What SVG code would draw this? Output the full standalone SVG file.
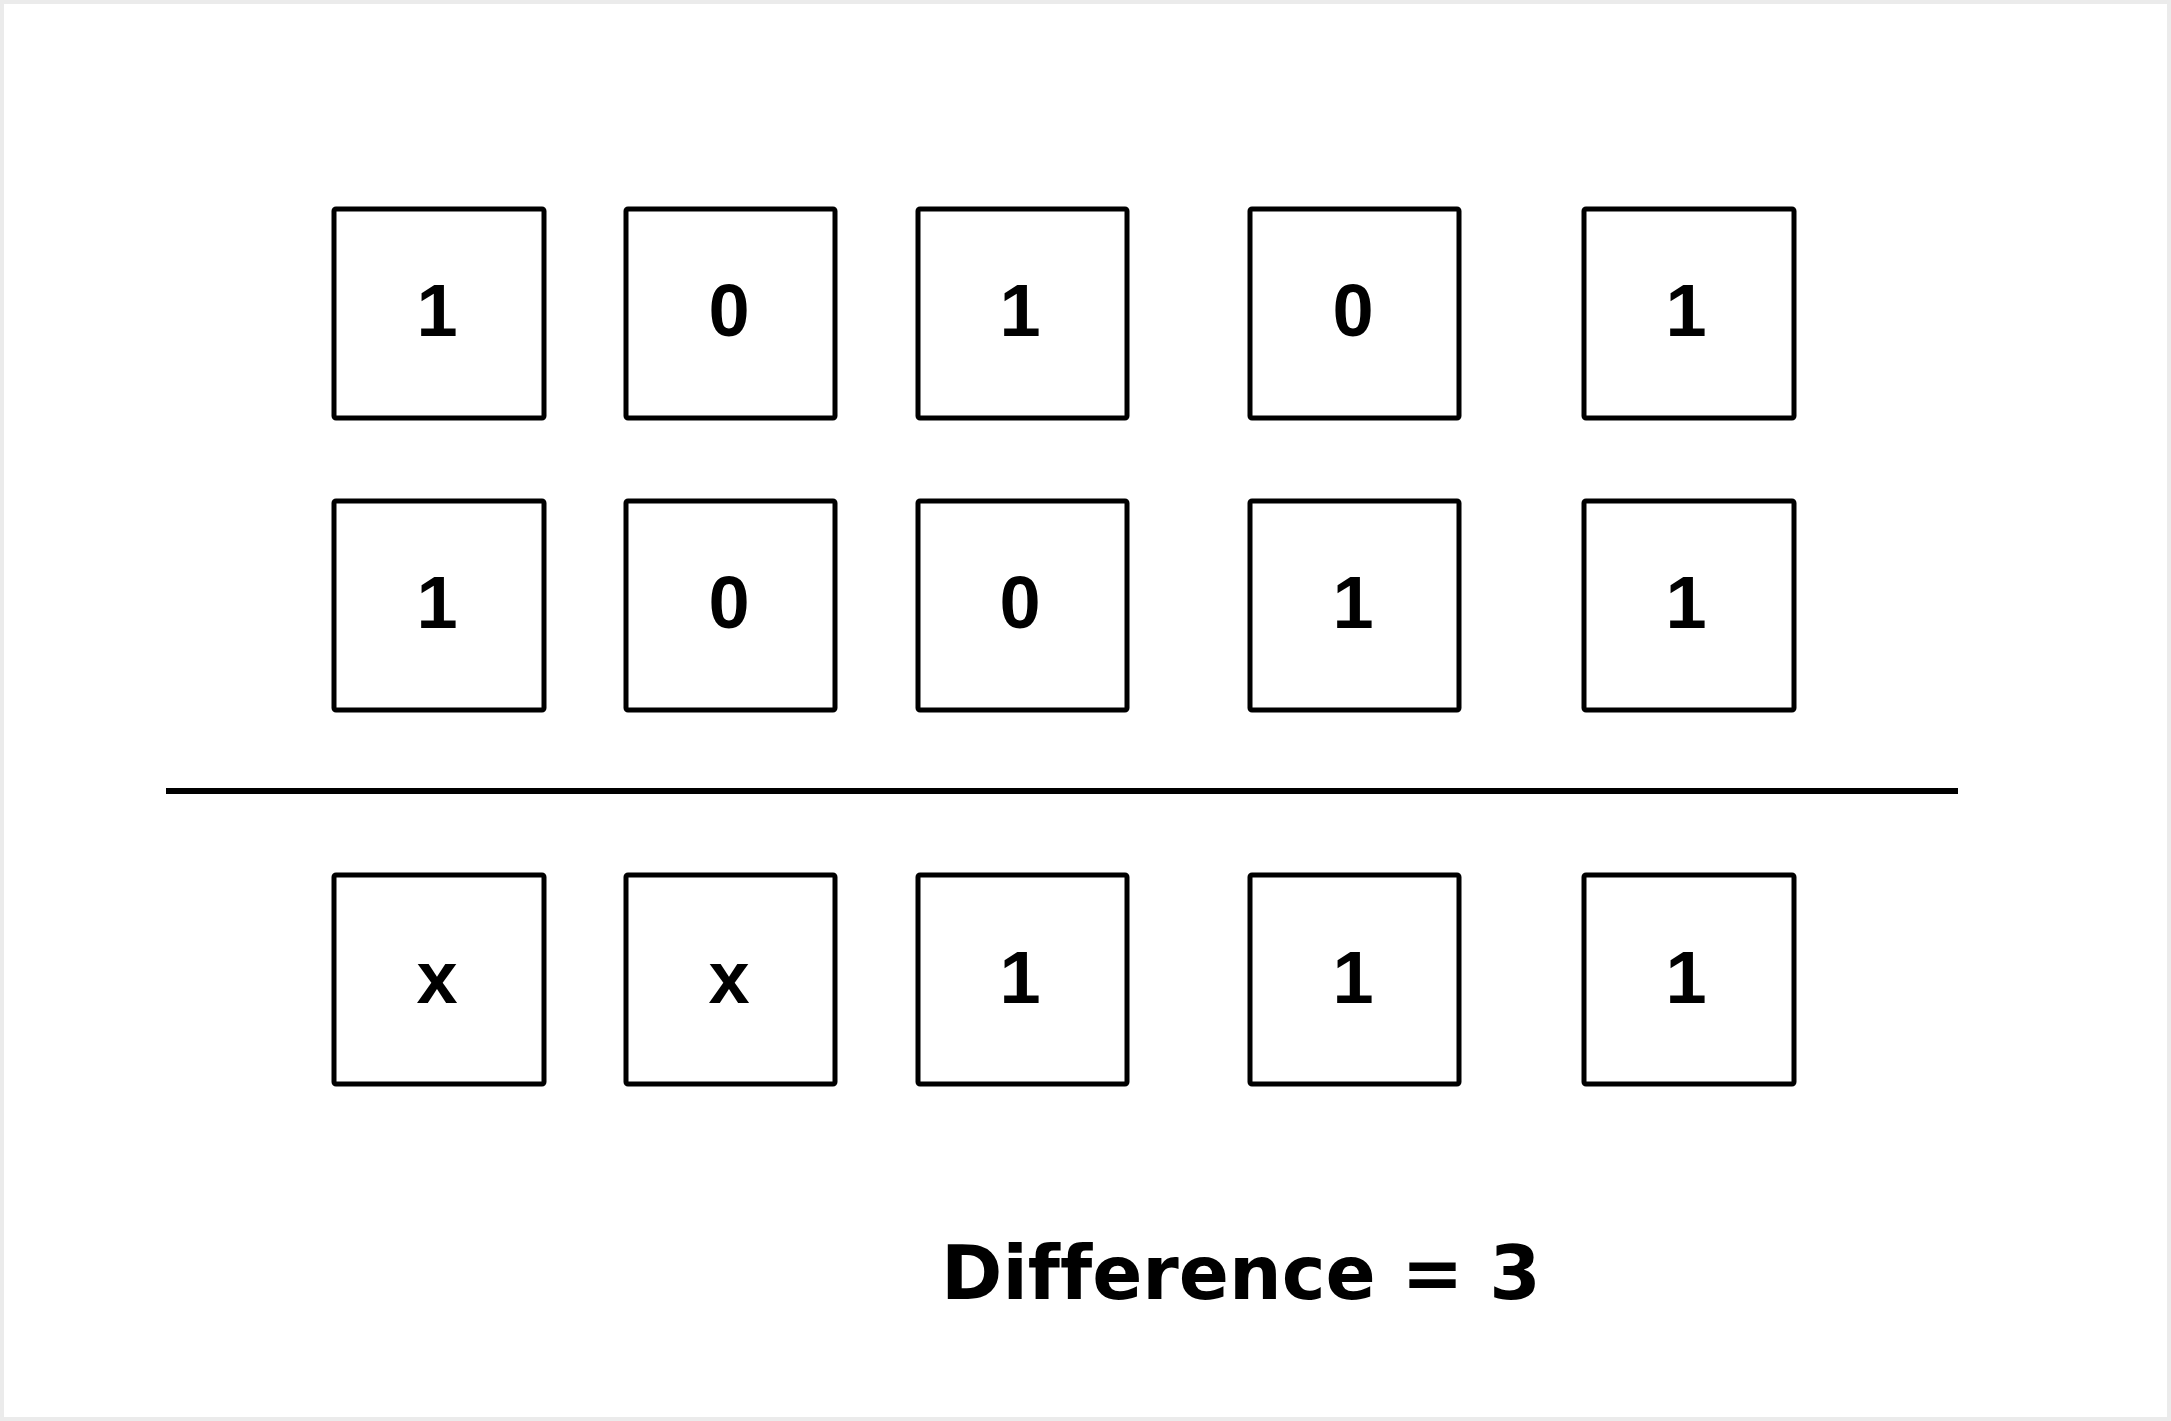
<svg xmlns="http://www.w3.org/2000/svg" width="2171" height="1421" viewBox="0 0 2171 1421">
<style>
.box{fill:#ffffff;stroke:#000000;stroke-width:5}
.d{font-family:'Liberation Sans','Arimo',Arial,'Roboto',Helvetica,sans-serif;font-weight:700;font-size:74px;text-anchor:middle;fill:#000}
.lbl{font-family:'DejaVu Sans',Verdana,sans-serif;font-weight:700;font-size:74px;fill:#000;font-variant-ligatures:none}
</style>
<rect x="0" y="0" width="2171" height="1421" fill="#ffffff"/>
<rect x="2" y="2" width="2167" height="1417" fill="none" stroke="#ebebeb" stroke-width="4"/>
<g id="connectors">
<line x1="166" y1="791" x2="1958" y2="791" stroke="#000" stroke-width="6"/>
</g>
<g id="r1c1"><rect class="box" x="334" y="209" width="210" height="209" rx="2"/><text class="d" x="437" y="336">1</text></g>
<g id="r1c2"><rect class="box" x="626" y="209" width="209" height="209" rx="2"/><text class="d" x="729" y="336">0</text></g>
<g id="r1c3"><rect class="box" x="918" y="209" width="209" height="209" rx="2"/><text class="d" x="1020" y="336">1</text></g>
<g id="r1c4"><rect class="box" x="1250" y="209" width="209" height="209" rx="2"/><text class="d" x="1353" y="336">0</text></g>
<g id="r1c5"><rect class="box" x="1584" y="209" width="210" height="209" rx="2"/><text class="d" x="1686" y="336">1</text></g>
<g id="r2c1"><rect class="box" x="334" y="501" width="210" height="209" rx="2"/><text class="d" x="437" y="628">1</text></g>
<g id="r2c2"><rect class="box" x="626" y="501" width="209" height="209" rx="2"/><text class="d" x="729" y="628">0</text></g>
<g id="r2c3"><rect class="box" x="918" y="501" width="209" height="209" rx="2"/><text class="d" x="1020" y="628">0</text></g>
<g id="r2c4"><rect class="box" x="1250" y="501" width="209" height="209" rx="2"/><text class="d" x="1353" y="628">1</text></g>
<g id="r2c5"><rect class="box" x="1584" y="501" width="210" height="209" rx="2"/><text class="d" x="1686" y="628">1</text></g>
<g id="r3c1"><rect class="box" x="334" y="875" width="210" height="209" rx="2"/><text class="d" x="437" y="1003">x</text></g>
<g id="r3c2"><rect class="box" x="626" y="875" width="209" height="209" rx="2"/><text class="d" x="729" y="1003">x</text></g>
<g id="r3c3"><rect class="box" x="918" y="875" width="209" height="209" rx="2"/><text class="d" x="1020" y="1003">1</text></g>
<g id="r3c4"><rect class="box" x="1250" y="875" width="209" height="209" rx="2"/><text class="d" x="1353" y="1003">1</text></g>
<g id="r3c5"><rect class="box" x="1584" y="875" width="210" height="209" rx="2"/><text class="d" x="1686" y="1003">1</text></g>
<g id="label"><text class="lbl" x="941" y="1299">Difference = 3</text></g>
</svg>
